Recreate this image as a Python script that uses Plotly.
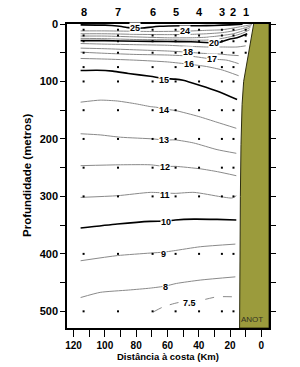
import plotly.graph_objects as go

# ---------------- data ----------------
station_names = ["8", "7", "6", "5", "4", "3", "2", "1"]
station_km = [113.6, 91.6, 69.5, 54.8, 39.8, 25.2, 17.8, 10.0]
sample_depths = [10, 20, 30, 50, 75, 100, 150, 200, 250, 300, 400, 500]
station1_depths = [10, 20, 30, 50]

iso25_km = [115.5, 100, 92, 86, 81, 76, 65, 50, 40, 30, 20, 12]
iso25_depth = [1.5, 2, 3.5, 6, 7.8, 7, 4, 3, 3, 2.5, 1.5, 0.5]
iso24_km = [115.5, 100, 85, 70, 48.6, 35, 25, 18, 12, 6]
iso24_depth = [12, 12, 12.5, 13, 12.5, 11, 10, 7, 4, 1]
iso23_km = [115.5, 100, 80, 60, 45, 35, 25, 18, 12, 6.5]
iso23_depth = [17, 17, 18, 18.5, 18, 17, 15, 12, 8, 3]
iso22_km = [115.5, 100, 80, 60, 45, 35, 25, 18, 12, 7]
iso22_depth = [21, 21, 22.5, 24, 24, 23, 20, 17, 12, 6]
iso21_km = [115.5, 100, 80, 60, 45, 35, 25, 18, 12, 7.5]
iso21_depth = [25, 25.5, 27, 27.5, 28, 28, 25, 21, 16, 10]
iso20_km = [115.5, 100, 80, 60, 45, 31, 27, 20, 15.5, 9]
iso20_depth = [29, 29, 30, 30.5, 31, 32.5, 32, 26, 24, 17]
iso19_km = [115.5, 100, 80, 60, 45, 35, 25, 15.5, 10]
iso19_depth = [34, 35, 36, 37, 39, 40, 40, 40, 38]
iso18_km = [115.5, 100, 80, 60, 46.7, 38, 28, 20, 14.5]
iso18_depth = [42, 43, 45, 47, 49, 51, 52, 54, 55]
iso17_km = [115.5, 100, 80, 60, 45, 31.5, 22, 14.5]
iso17_depth = [49, 51, 53, 54, 56, 61, 63, 69]
iso16_km = [115.5, 100, 80, 60, 46.2, 35, 25, 14.5]
iso16_depth = [60, 61, 63, 66, 70, 74, 80, 90]
iso15_km = [115.5, 105, 95, 85, 71, 62, 55, 50, 39, 28, 15.5]
iso15_depth = [81, 80.5, 82, 86, 91, 95, 96, 98, 107, 117, 131.5]
iso14_km = [115.5, 103, 92, 80, 71, 66.7, 62, 55, 40, 28.3, 16]
iso14_depth = [136, 132.5, 134, 139, 143.7, 145, 148, 150.5, 161, 171, 181.5]
iso13_km = [115.5, 103, 90, 69, 62, 55, 43.3, 28.3, 16]
iso13_depth = [191, 193, 197, 200, 202, 201.7, 207, 218.6, 225]
iso12_km = [115.5, 90, 71, 61.4, 55, 39, 28, 16]
iso12_depth = [246.5, 245, 245, 248, 247.7, 252, 257, 264]
iso11_km = [115.5, 92, 71, 61.7, 55, 43, 26, 18.7, 16]
iso11_depth = [301.7, 298.8, 293, 294, 294.7, 293, 300.5, 302.8, 298.8]
iso10_km = [115.5, 92, 71, 60.9, 55, 43, 28.3, 16]
iso10_depth = [355, 348, 343.5, 343, 341, 339.5, 340, 341]
iso9_km = [115.5, 92, 71, 62.4, 56, 39, 16.6]
iso9_depth = [412, 403, 398.6, 397, 394.6, 387.6, 383]
iso8_km = [115.5, 103, 85, 71, 61.2, 54.3, 39, 16.6]
iso8_depth = [476, 467, 463, 459.6, 456, 451.5, 445.6, 440]
iso75_km = [69, 62.5, 53, 46, 38, 28.3, 17.7]
iso75_depth = [501, 492, 484.7, 484, 480.5, 474.7, 474.7]

label_text = ["25", "24", "20", "18", "17", "16", "15", "14", "13", "12", "11", "10", "9", "8", "7.5"]
label_km = [81, 48.6, 30.5, 46.7, 31.5, 46.2, 62, 62, 62, 61.4, 61.7, 60.9, 62.4, 61.2, 46]
label_depth = [7.8, 12.5, 32.5, 49, 61.5, 70, 96.7, 149.8, 202, 249.5, 298, 345, 400, 457, 486]

land_km = [4.9, 11.3, 12.3, 13.0, 13.4, 13.9, 13.9, -4.9, -4.9]
land_depth = [0, 100, 140, 210, 300, 420, 529, 529, 0]

x_ticks = list(range(0, 121, 10))
y_ticks = list(range(0, 501, 50))

# ---------------- figure ----------------
FONT = "Liberation Sans, Arial, sans-serif"
fig = go.Figure()

iso_specs = [
    (iso25_km, iso25_depth, "black", 1.6, "solid"),
    (iso24_km, iso24_depth, "#8a8a8a", 1, "solid"),
    (iso23_km, iso23_depth, "#8a8a8a", 1, "solid"),
    (iso22_km, iso22_depth, "#8a8a8a", 1, "solid"),
    (iso21_km, iso21_depth, "#8a8a8a", 1, "solid"),
    (iso20_km, iso20_depth, "black", 1.6, "solid"),
    (iso19_km, iso19_depth, "#8a8a8a", 1, "solid"),
    (iso18_km, iso18_depth, "#8a8a8a", 1, "solid"),
    (iso17_km, iso17_depth, "#8a8a8a", 1, "solid"),
    (iso16_km, iso16_depth, "#8a8a8a", 1, "solid"),
    (iso15_km, iso15_depth, "black", 1.6, "solid"),
    (iso14_km, iso14_depth, "#8a8a8a", 1, "solid"),
    (iso13_km, iso13_depth, "#8a8a8a", 1, "solid"),
    (iso12_km, iso12_depth, "#8a8a8a", 1, "solid"),
    (iso11_km, iso11_depth, "#8a8a8a", 1, "solid"),
    (iso10_km, iso10_depth, "black", 1.6, "solid"),
    (iso9_km, iso9_depth, "#8a8a8a", 1, "solid"),
    (iso8_km, iso8_depth, "#8a8a8a", 1, "solid"),
    (iso75_km, iso75_depth, "#8a8a8a", 1, "dash"),
]
for kms, deps, col, w, dash in iso_specs:
    fig.add_trace(go.Scatter(x=kms, y=deps, mode="lines",
                             line=dict(color=col, width=w, dash=dash, shape="spline", smoothing=0.6),
                             hoverinfo="skip"))

# sample dots
dot_x, dot_y = [], []
for name, km in zip(station_names, station_km):
    deps = station1_depths if name == "1" else sample_depths
    for d in deps:
        dot_x.append(km)
        dot_y.append(d)
fig.add_trace(go.Scatter(x=dot_x, y=dot_y, mode="markers",
                         marker=dict(color="black", size=2, symbol="square"),
                         hoverinfo="skip"))

# land
fig.add_trace(go.Scatter(x=land_km, y=land_depth, mode="lines", fill="toself",
                         fillcolor="#9b9b3c", line=dict(color="#2e2e10", width=1),
                         hoverinfo="skip"))

annotations = []
for t, k, d in zip(label_text, label_km, label_depth):
    annotations.append(dict(x=k, y=d, xref="x", yref="y", text=t, showarrow=False,
                            font=dict(family=FONT, size=9, color="black", weight="bold"),
                            bgcolor="white", borderpad=0))
for name, km in zip(station_names, station_km):
    annotations.append(dict(x=km, y=1.0395, xref="x", yref="paper", text=name, showarrow=False,
                            yanchor="middle",
                            font=dict(family=FONT, size=11, color="black", weight="bold")))
annotations.append(dict(x=5.9, y=515, xref="x", yref="y", text="ANOT", showarrow=False,
                        font=dict(family=FONT, size=8, color="#333322")))
annotations.append(dict(x=0.5, y=-0.094, xref="paper", yref="paper", text="Distância à costa (Km)",
                        showarrow=False, yanchor="middle",
                        font=dict(family=FONT, size=9.5, color="black", weight="bold")))
annotations.append(dict(x=-0.198, y=0.5, xref="paper", yref="paper", text="Profundidade (metros)",
                        showarrow=False, textangle=-90, xanchor="center", yanchor="middle",
                        font=dict(family=FONT, size=11.5, color="black", weight="bold")))

fig.update_layout(
    width=300, height=367,
    margin=dict(l=67, r=31, t=24, b=39),
    plot_bgcolor="white", paper_bgcolor="white",
    showlegend=False,
    annotations=annotations,
    xaxis=dict(range=[124.2, -4.9], tickmode="array", tickvals=x_ticks,
               ticktext=[str(v) if v % 20 == 0 else "" for v in x_ticks],
               ticks="outside", ticklen=7, tickwidth=1.3, tickcolor="black",
               showline=True, linecolor="black", linewidth=1.5, mirror=True,
               showgrid=False, zeroline=False,
               tickfont=dict(family=FONT, size=10, color="black", weight="bold")),
    yaxis=dict(range=[529, 0], tickmode="array", tickvals=y_ticks,
               ticktext=[str(v) if v % 100 == 0 else "" for v in y_ticks],
               ticks="outside", ticklen=5, tickwidth=1.3, tickcolor="black",
               showline=True, linecolor="black", linewidth=1.5, mirror="ticks",
               showgrid=False, zeroline=False,
               tickfont=dict(family=FONT, size=11, color="black", weight="bold")),
)

fig.write_html("out.html")
